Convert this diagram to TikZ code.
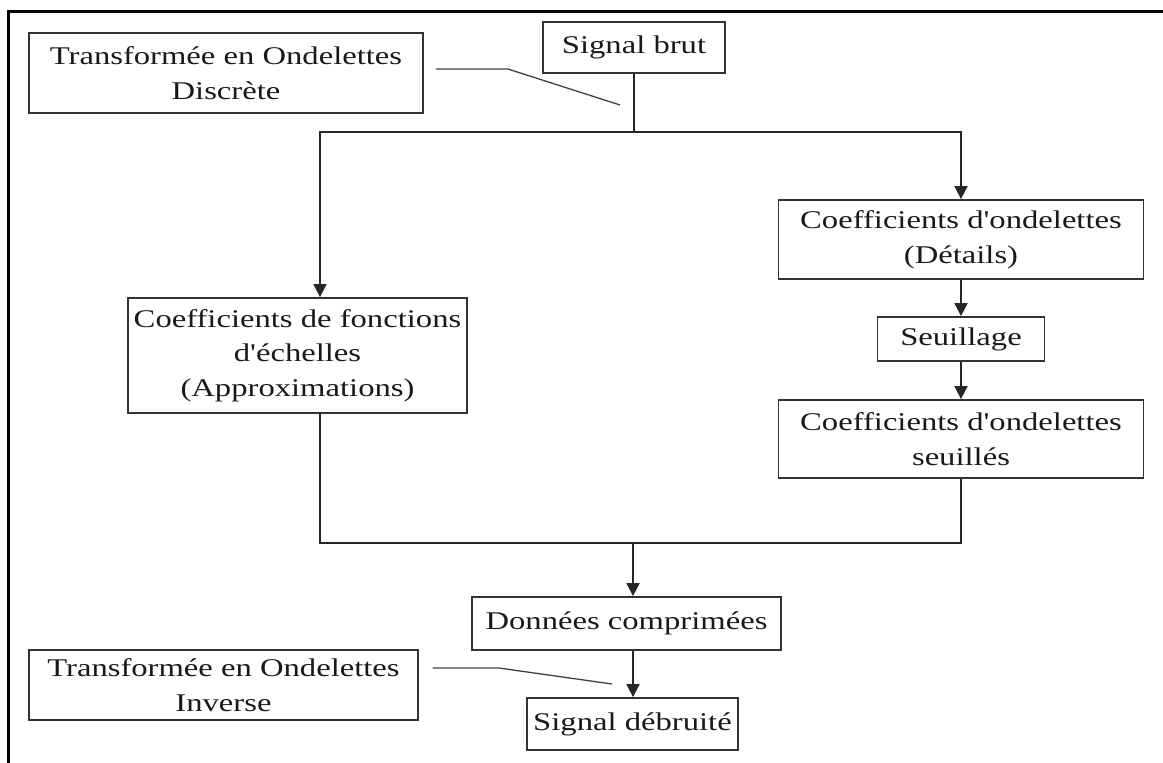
\documentclass[tikz,border=0pt]{standalone}
\usepackage{fontspec}
\usetikzlibrary{arrows.meta}
\newfontfamily\boxfont[FakeStretch=1.28]{Liberation Serif}
\begin{document}
\begin{tikzpicture}[x=1pt,y=-1pt,
  box/.style={draw=black!80, line width=1.8pt, text=black!90, align=center,
    font=\boxfont\fontsize{25.5}{34.5}\selectfont, inner sep=0pt},
  link/.style={draw=black!85, line width=1.8pt},
  arr/.style={link, -{Triangle[length=13pt,width=13pt]}},
  note/.style={draw=black!75, line width=1.3pt}]
\useasboundingbox (0,0) rectangle (1163,763);
% outer frame (top and left rules)
\draw[line width=3pt] (8,763) -- (8,11) -- (1163,11);

% boxes
\node[box, minimum width=394pt, minimum height=80pt] (tod) at (226,73) {Transformée en Ondelettes\\Discrète};
\node[box, minimum width=182pt, minimum height=51pt] (brut) at (634,47.5) {Signal brut};
\node[box, minimum width=365pt, minimum height=79pt] (det) at (961,239.5) {Coefficients d'ondelettes\\(Détails)};
\node[box, minimum width=167pt, minimum height=44pt] (seuil) at (961,339) {Seuillage};
\node[box, minimum width=365pt, minimum height=78pt] (seuils) at (961,439) {Coefficients d'ondelettes\\seuillés};
\node[box, minimum width=339pt, minimum height=115pt] (approx) at (297.5,355.5) {Coefficients de fonctions\\d'échelles\\(Approximations)};
\node[box, minimum width=309pt, minimum height=53pt] (donnees) at (626.5,623.5) {Données comprimées};
\node[box, minimum width=211pt, minimum height=52pt] (debruite) at (632.5,724) {Signal débruité};
\node[box, minimum width=389pt, minimum height=70pt] (toi) at (223.5,685) {Transformée en Ondelettes\\Inverse};

% branching points
\coordinate (split) at (634,132);
\coordinate (merge) at (633,543);
\coordinate (todtip) at (620,105);
\coordinate (toitip) at (612,684);

% decomposition
\draw[link] (brut.south) -- (split);
\draw[arr] (split) -| ([xshift=22.5pt]approx.north);
\draw[arr] (split) -| (det.north);
\draw[arr] (det.south) -- (seuil.north);
\draw[arr] (seuil.south) -- (seuils.north);

% reconstruction
\draw[link] ([xshift=22.5pt]approx.south) |- (merge) -| (seuils.south);
\draw[arr] (merge) -- (merge |- donnees.north);
\draw[arr] (donnees.south -| merge) -- (debruite.north -| merge);

% callouts
\draw[note] ([xshift=12pt,yshift=4pt]tod.east) -- ++(72,0) -- (todtip);
\draw[note] ([xshift=14pt,yshift=17pt]toi.east) -- ++(66,0) -- (toitip);
\end{tikzpicture}
\end{document}
